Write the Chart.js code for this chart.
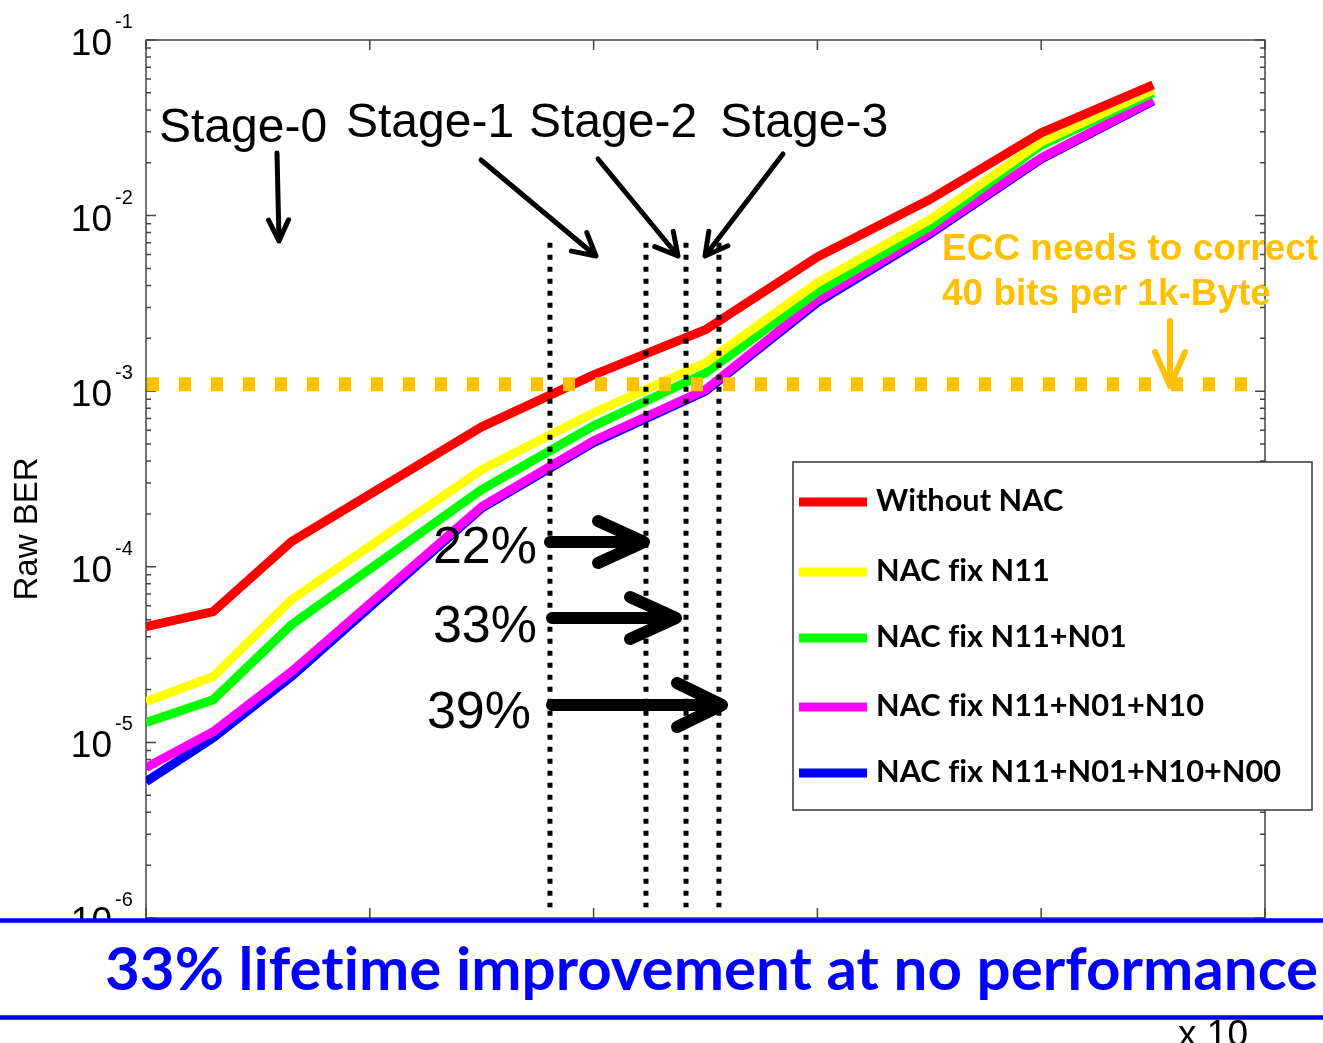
<!DOCTYPE html>
<html>
<head>
<meta charset="utf-8">
<script src="https://cdn.jsdelivr.net/npm/chart.js@4.4.1/dist/chart.umd.min.js"></script>
<style>
  html, body { margin: 0; padding: 0; background: #fff; overflow: hidden; }
  canvas { display: block; }
</style>
</head>
<body>
<canvas id="berChart" width="1323" height="1043"></canvas>
<script>
// P/E cycles (x 10^4) at which the raw bit error rate was sampled
const cycles = [0, 0.3, 0.65, 1.5, 2.0, 2.5, 3.0, 3.5, 4.0, 4.5];

// Raw BER per correction scheme
const berWithoutNAC = [4.56e-5, 5.55e-5, 1.39e-4, 6.27e-4, 1.24e-3, 2.24e-3, 5.82e-3, 1.23e-2, 2.96e-2, 5.55e-2];
const berFixN11     = [1.71e-5, 2.37e-5, 6.5e-5, 3.57e-4, 7.53e-4, 1.45e-3, 4.14e-3, 9.46e-3, 2.63e-2, 5.19e-2];
const berFixN11N01  = [1.30e-5, 1.75e-5, 4.68e-5, 2.75e-4, 6.35e-4, 1.27e-3, 3.68e-3, 8.63e-3, 2.52e-2, 4.99e-2];
const berFixN11N01N10    = [7.19e-6, 1.15e-5, 2.53e-5, 2.20e-4, 5.22e-4, 1.02e-3, 3.31e-3, 7.98e-3, 2.13e-2, 4.56e-2];
const berFixN11N01N10N00 = [5.98e-6, 1.06e-5, 2.37e-5, 2.16e-4, 5.10e-4, 1.00e-3, 3.20e-3, 7.80e-3, 2.10e-2, 4.50e-2];

const seriesLabels = ['Without NAC', 'NAC fix N11', 'NAC fix N11+N01', 'NAC fix N11+N01+N10', 'NAC fix N11+N01+N10+N00'];
const seriesColors = ['#FF0000', '#FFFF00', '#00FF00', '#FF00FF', '#0000FF'];

// Axis ticks
const yDecades = [-6, -5, -4, -3, -2, -1];
const xTicks = [0, 1, 2, 3, 4, 5];

// ECC capability (40 bits per 1 kB) and the lifetime reached by each stage
const eccLimit = 1.095e-3;
const eccLineEnd = 4.933;
const stageBounds = [1.805, 2.234, 2.413, 2.560];
const stageLineTop = 7.0e-3;
const stageLineBottom = 1.15e-6;
const stageNames = ['Stage-0', 'Stage-1', 'Stage-2', 'Stage-3'];
const improvements = ['22%', '33%', '39%'];

const SANS = "'Liberation Sans', Arial, sans-serif";
const CAL = "Lato, 'Open Sans', sans-serif";

const seriesData = [berWithoutNAC, berFixN11, berFixN11N01, berFixN11N01N10, berFixN11N01N10N00];

function arrow(ctx, x0, y0, x1, y1, len, half, width, color) {
  const dx = x1 - x0, dy = y1 - y0, d = Math.hypot(dx, dy);
  const ux = dx / d, uy = dy / d, px = -uy, py = ux;
  ctx.save();
  ctx.strokeStyle = color; ctx.lineWidth = width;
  ctx.lineCap = 'round'; ctx.lineJoin = 'round';
  ctx.beginPath();
  ctx.moveTo(x0, y0); ctx.lineTo(x1, y1);
  ctx.moveTo(x1 - ux * len + px * half, y1 - uy * len + py * half);
  ctx.lineTo(x1, y1);
  ctx.lineTo(x1 - ux * len - px * half, y1 - uy * len - py * half);
  ctx.stroke();
  ctx.restore();
}

// letter spacing keeps the fi / ti pairs as separate glyphs
function plainText(ctx) {
  if ('letterSpacing' in ctx) ctx.letterSpacing = '0.01px';
}

function fitSize(ctx, text, weight, family, width) {
  ctx.font = weight + ' 100px ' + family;
  return 100 * width / ctx.measureText(text).width;
}

// Box, inward ticks and 10^n labels in the MATLAB style
const axesFrame = {
  id: 'axesFrame',
  beforeDatasetsDraw(chart) {
    const { ctx, chartArea: a, scales: { x, y } } = chart;
    ctx.save();
    ctx.strokeStyle = '#444';
    ctx.lineWidth = 1.5;
    ctx.strokeRect(a.left, a.top, a.right - a.left, a.bottom - a.top);
    ctx.beginPath();
    yDecades.forEach(d => {
      for (let m = 1; m < 10; m++) {
        if (d === -1 && m > 1) break;
        const py = y.getPixelForValue(m * Math.pow(10, d));
        const len = m === 1 ? 10 : 5;
        ctx.moveTo(a.left, py); ctx.lineTo(a.left + len, py);
        ctx.moveTo(a.right, py); ctx.lineTo(a.right - len, py);
      }
    });
    xTicks.forEach(t => {
      const px = x.getPixelForValue(t);
      ctx.moveTo(px, a.bottom); ctx.lineTo(px, a.bottom - 10);
      ctx.moveTo(px, a.top); ctx.lineTo(px, a.top + 10);
    });
    ctx.stroke();

    ctx.fillStyle = '#000';
    yDecades.forEach(d => {
      const py = y.getPixelForValue(Math.pow(10, d));
      ctx.font = '37px ' + SANS;
      ctx.textAlign = 'right';
      ctx.textBaseline = 'alphabetic';
      ctx.fillText('10', 112, py + 15);
      ctx.font = '20px ' + SANS;
      ctx.textAlign = 'left';
      ctx.fillText(String(d), 115, py - 12);
    });

    ctx.save();
    ctx.translate(37, 529);
    ctx.rotate(-Math.PI / 2);
    ctx.font = '33px ' + SANS;
    ctx.textAlign = 'center';
    ctx.fillText('Raw BER', 0, 0);
    ctx.restore();
    ctx.restore();
  }
};

// Threshold, stage markers, callouts, legend and caption bar
const annotations = {
  id: 'annotations',
  afterDatasetsDraw(chart) {
    const { ctx, chartArea: a, scales: { x, y } } = chart;
    ctx.save();
    plainText(ctx);

    // ECC limit
    const ey = y.getPixelForValue(eccLimit);
    ctx.strokeStyle = '#FFC000';
    ctx.lineWidth = 14;
    ctx.setLineDash([12, 20]);
    ctx.beginPath();
    ctx.moveTo(x.getPixelForValue(0) + 1, ey);
    ctx.lineTo(x.getPixelForValue(eccLineEnd), ey);
    ctx.stroke();

    // stage lifetimes
    ctx.strokeStyle = '#000';
    ctx.lineWidth = 5;
    ctx.setLineDash([5, 7]);
    stageBounds.forEach(b => {
      const px = x.getPixelForValue(b);
      ctx.beginPath();
      ctx.moveTo(px, y.getPixelForValue(stageLineTop));
      ctx.lineTo(px, y.getPixelForValue(stageLineBottom));
      ctx.stroke();
    });
    ctx.setLineDash([]);

    // stage labels and pointers
    ctx.fillStyle = '#000';
    ctx.font = '48px ' + SANS;
    ctx.textAlign = 'left';
    ctx.textBaseline = 'alphabetic';
    const stageText = [[159, 142], [346, 137], [529, 137], [720, 137]];
    stageNames.forEach((s, i) => ctx.fillText(s, stageText[i][0], stageText[i][1]));
    arrow(ctx, 277, 153, 279, 241, 21, 10, 5, '#000');
    arrow(ctx, 481, 160, 596, 256, 22, 12, 5, '#000');
    arrow(ctx, 598, 159, 678, 256, 22, 12, 5, '#000');
    arrow(ctx, 783, 154, 705, 256, 22, 12, 5, '#000');

    // lifetime gains
    ctx.font = '52px ' + SANS;
    ctx.textAlign = 'right';
    const gainText = [[537, 563], [537, 642], [531, 728]];
    improvements.forEach((s, i) => ctx.fillText(s, gainText[i][0], gainText[i][1]));
    arrow(ctx, 550, 542, 644, 542, 46, 21, 12, '#000');
    arrow(ctx, 552, 618, 676, 618, 46, 21, 12, '#000');
    arrow(ctx, 552, 705, 722, 705, 45, 22, 12, '#000');

    // legend
    ctx.fillStyle = '#fff';
    ctx.fillRect(793, 462, 519, 348);
    ctx.strokeStyle = '#333';
    ctx.lineWidth = 1.5;
    ctx.strokeRect(793, 462, 519, 348);
    const rows = [502, 572, 638, 707, 773];
    const lsize = fitSize(ctx, seriesLabels[4], 'bold', CAL, 405);
    ctx.font = 'bold ' + lsize.toFixed(2) + 'px ' + CAL;
    ctx.textAlign = 'left';
    seriesLabels.forEach((lab, i) => {
      ctx.strokeStyle = seriesColors[i];
      ctx.lineWidth = 9;
      ctx.beginPath();
      ctx.moveTo(799, rows[i]); ctx.lineTo(867, rows[i]);
      ctx.stroke();
      ctx.fillStyle = '#000';
      ctx.fillText(lab, 876, rows[i] + 9);
    });

    // ECC note
    const osize = fitSize(ctx, 'ECC needs to correct', 'bold', SANS, 376);
    ctx.font = 'bold ' + osize.toFixed(2) + 'px ' + SANS;
    ctx.fillStyle = '#FFC000';
    ctx.fillText('ECC needs to correct', 942, 260);
    ctx.fillText('40 bits per 1k-Byte', 942, 305);
    arrow(ctx, 1170, 321, 1170, 386, 34, 15, 6, '#FFC000');

    // axis multiplier, mostly hidden under the caption bar
    ctx.fillStyle = '#000';
    ctx.font = '37px ' + SANS;
    ctx.fillText('x 10', 1178, 1046);

    // caption bar
    ctx.fillStyle = '#fff';
    ctx.fillRect(0, 920, 1323, 97);
    ctx.strokeStyle = '#0000FF';
    ctx.lineWidth = 4.5;
    ctx.beginPath();
    ctx.moveTo(0, 920.5); ctx.lineTo(1323, 920.5);
    ctx.moveTo(0, 1017.5); ctx.lineTo(1323, 1017.5);
    ctx.stroke();
    const caption = '33% lifetime improvement at no performance';
    plainText(ctx);
    const csize = fitSize(ctx, caption, 'bold', CAL, 1213);
    ctx.font = 'bold ' + csize.toFixed(2) + 'px ' + CAL;
    ctx.fillStyle = '#0000FF';
    ctx.fillText(caption, 105, 990);

    ctx.restore();
  }
};

new Chart(document.getElementById('berChart'), {
  type: 'line',
  data: {
    datasets: seriesLabels.map((label, i) => ({
      label,
      data: cycles.map((c, j) => ({ x: c, y: seriesData[i][j] })),
      borderColor: seriesColors[i],
      backgroundColor: seriesColors[i],
      borderWidth: 9,
      pointRadius: 0,
      tension: 0,
      fill: false
    }))
  },
  options: {
    responsive: false,
    animation: false,
    devicePixelRatio: 1,
    layout: { padding: { top: 40, right: 58, left: 0, bottom: 0 } },
    plugins: { legend: { display: false }, tooltip: { enabled: false } },
    scales: {
      x: {
        type: 'linear', min: 0, max: 5,
        ticks: { display: false },
        grid: { display: false },
        border: { display: false },
        afterFit: s => { s.height = 125; }
      },
      y: {
        type: 'logarithmic', min: 1e-6, max: 1e-1,
        ticks: { display: false },
        grid: { display: false },
        border: { display: false },
        afterFit: s => { s.width = 146; }
      }
    }
  },
  plugins: [axesFrame, annotations]
});
</script>
</body>
</html>
